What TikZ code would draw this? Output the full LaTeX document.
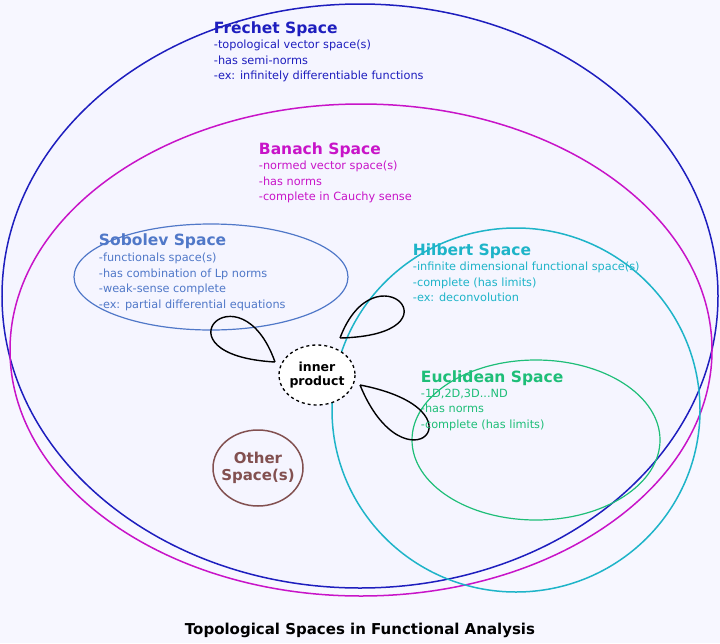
\documentclass[tikz,border=0pt]{standalone}
\usepackage{fontspec}
\setmainfont{DejaVu Sans}
\begin{document}
\begin{tikzpicture}[x=1pt,y=-1pt,
	txt/.style={anchor=north west,inner sep=0.75pt,align=left,font=\fontsize{11.3}{15.5}\selectfont},
	ttl/.style={anchor=north west,inner sep=0.75pt,font=\fontsize{15.5}{17}\selectfont\bfseries},
	loop/.style={line width=1.4pt}]
	\useasboundingbox (0,0) rectangle (720,643);
	\definecolor{frechet}{RGB}{30,30,190}
	\definecolor{banach}{RGB}{200,20,200}
	\definecolor{sobolev}{RGB}{80,120,200}
	\definecolor{hilbert}{RGB}{30,180,200}
	\definecolor{euclid}{RGB}{30,190,120}
	\definecolor{other}{RGB}{130,80,80}
	\fill[blue!3] (0,0) rectangle (720,643);
	% ellipses
	\draw[frechet,line width=1.5pt,fill=blue!4] (360,296) ellipse (358 and 292);
	\draw[banach,line width=1.5pt] (361,350) ellipse (351 and 246);
	\draw[sobolev,line width=1.2pt] (211,277) ellipse (137 and 53);
	\draw[hilbert,line width=1.5pt] (516,410) ellipse (184 and 182);
	\draw[euclid,line width=1.2pt] (536,440) ellipse (124 and 80);
	\draw[other,line width=1.5pt] (258,468) ellipse (45 and 38);
	\draw[dashed,line width=1.3pt,fill=white] (317,375) ellipse (38 and 30);
	\node[font=\fontsize{12.5}{14}\selectfont\bfseries,align=center] (ip) at (317,375) {inner\\product};
	\node[text=other,font=\fontsize{15}{17}\selectfont\bfseries,align=center] (oth) at (258,468) {Other\\Space(s)};
	% loops
	\draw[loop] (275,362) .. controls (150,355) and (240,263) .. (275,362);
	\draw[loop] (340,338) .. controls (375,245) and (465,335) .. (340,338);
	\draw[loop] (360,385) .. controls (490,410) and (405,495) .. (360,385);
	% texts
	\node[ttl,text=frechet] (fr) at (213,20) {Fr\'echet Space};
	\node[txt,text=frechet] (frt) at (213,39) {-topological vector space(s)\\-has semi-norms\\-ex: infinitely differentiable functions};
	\node[ttl,text=banach] (ba) at (258,142) {Banach Space};
	\node[txt,text=banach] (bat) at (258,160) {-normed vector space(s)\\-has norms\\-complete in Cauchy sense};
	\node[ttl,text=sobolev] (so) at (98,233) {Sobolev Space};
	\node[txt,text=sobolev] (sot) at (98,252) {-functionals space(s)\\-has combination of Lp norms\\-weak-sense complete\\-ex: partial differential equations};
	\node[ttl,text=hilbert] (hi) at (412,243) {Hilbert Space};
	\node[txt,text=hilbert] (hit) at (412,261) {-infinite dimensional functional space(s)\\-complete (has limits)\\-ex: deconvolution};
	\node[ttl,text=euclid] (eu) at (420,370) {Euclidean Space};
	\node[txt,text=euclid] (eut) at (420,388) {-1D,2D,3D...ND\\-has norms\\-complete (has limits)};
	\node[font=\fontsize{15}{17}\selectfont\bfseries] (cap) at (360,630) {Topological Spaces in Functional Analysis};
\end{tikzpicture}
\end{document}
